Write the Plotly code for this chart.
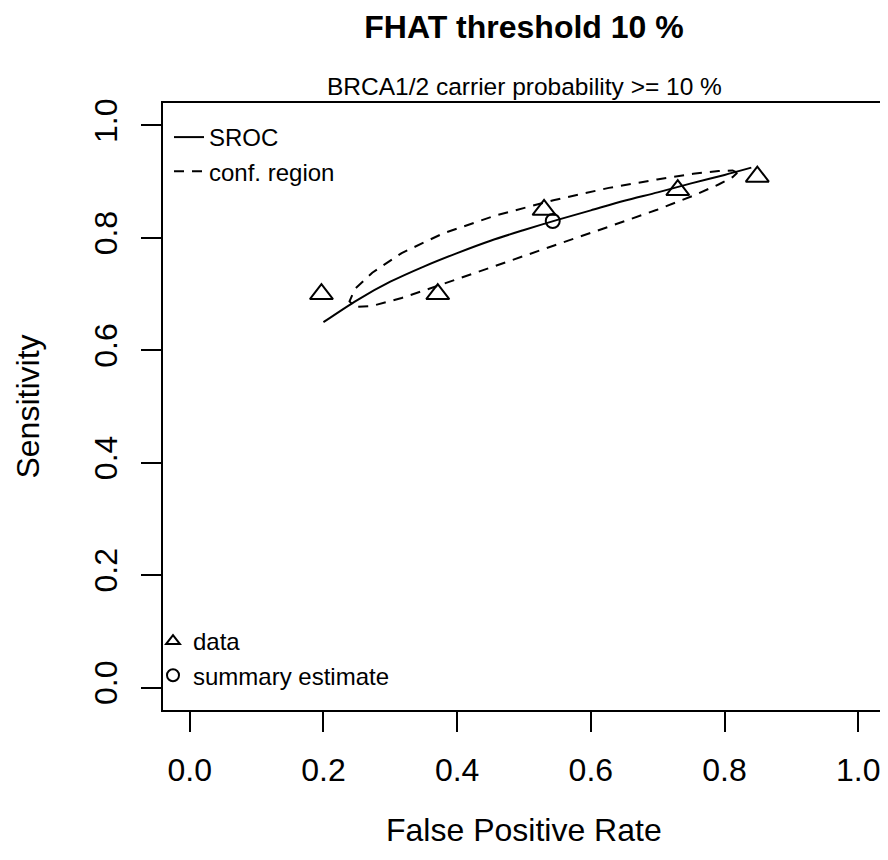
import plotly.graph_objects as go

# ---- data ----
study_fpr = [0.197, 0.371, 0.530, 0.730, 0.849]
study_sens = [0.700, 0.700, 0.850, 0.885, 0.909]

summary_fpr = [0.543]
summary_sens = [0.830]

sroc_fpr = [0.20, 0.25, 0.30, 0.35, 0.40, 0.45, 0.50, 0.55, 0.60, 0.65, 0.70, 0.75, 0.80, 0.84]
sroc_sens = [0.650, 0.689, 0.722, 0.749, 0.773, 0.795, 0.814, 0.832, 0.849, 0.866, 0.881, 0.897, 0.912, 0.925]

region_fpr = [0.819, 0.812, 0.791, 0.753, 0.699, 0.627, 0.544, 0.458, 0.379, 0.317, 0.273, 0.247,
              0.239, 0.247, 0.273, 0.317, 0.379, 0.458, 0.544, 0.627, 0.699, 0.753, 0.791, 0.812, 0.819]
region_sens = [0.916, 0.920, 0.919, 0.914, 0.904, 0.889, 0.867, 0.840, 0.808, 0.773, 0.738, 0.709,
               0.687, 0.677, 0.679, 0.693, 0.718, 0.750, 0.786, 0.820, 0.850, 0.875, 0.895, 0.908, 0.916]

tick_vals = [0.0, 0.2, 0.4, 0.6, 0.8, 1.0]
tick_text = ["0.0", "0.2", "0.4", "0.6", "0.8", "1.0"]

title_text = "FHAT threshold 10 %"
subtitle_text = "BRCA1/2 carrier probability >= 10 %"
x_title = "False Positive Rate"
y_title = "Sensitivity"

FONT = "Liberation Sans, Arial, sans-serif"

# the page body adds an 8px margin; keep the page inside the 888x860 window (no scrollbars)
W, H = 880, 844
ML, MR, MT, MB = 155, 3, 95, 142
PLOT_W, PLOT_H = W - ML - MR, H - MT - MB

fig = go.Figure()

fig.add_trace(go.Scatter(
    x=sroc_fpr, y=sroc_sens, mode="lines", name="SROC",
    line=dict(color="black", width=2, shape="spline", smoothing=0.8), legend="legend"))
fig.add_trace(go.Scatter(
    x=region_fpr, y=region_sens, mode="lines", name="conf. region",
    line=dict(color="black", width=2, dash="10px,8px"), legend="legend"))
fig.add_trace(go.Scatter(
    x=study_fpr, y=study_sens, mode="markers", name="data",
    marker=dict(symbol="triangle-up-open", size=20, color="black", line=dict(width=2, color="black")),
    legend="legend2"))
fig.add_trace(go.Scatter(
    x=summary_fpr, y=summary_sens, mode="markers", name="summary estimate",
    marker=dict(symbol="circle-open", size=14, color="black", line=dict(width=2, color="black")),
    legend="legend2"))

axis_common = dict(
    range=[-0.04, 1.04],
    showgrid=False, zeroline=False, automargin=False, ticklabeloverflow="allow",
    showline=True, linecolor="black", linewidth=2, mirror=True,
    ticks="outside", ticklen=20, tickwidth=2, tickcolor="black",
    tickvals=tick_vals, ticktext=tick_text,
    tickfont=dict(family=FONT, size=32, color="black"),
)

fig.update_layout(
    width=W, height=H,
    margin=dict(l=ML, r=MR, t=MT, b=MB),
    paper_bgcolor="white", plot_bgcolor="white",
    font=dict(family=FONT, color="black"),
    title=dict(text="<b>" + title_text + "</b>", x=0.5, xref="paper", xanchor="center",
               y=1 - 19 / H, yref="container", yanchor="middle",
               font=dict(family=FONT, size=32, color="black")),
    xaxis=dict(**axis_common, ticklabelstandoff=11),
    yaxis=dict(**axis_common, tickangle=-90, ticklabelstandoff=11,
               title=dict(text=y_title, standoff=39, font=dict(family=FONT, size=32, color="black"))),
    legend=dict(x=6 / PLOT_W, y=1 - 12 / PLOT_H, xanchor="left", yanchor="top", xref="paper", yref="paper",
                bgcolor="rgba(0,0,0,0)", borderwidth=0,
                font=dict(family=FONT, size=24, color="black"), tracegroupgap=0),
    legend2=dict(x=-10 / PLOT_W, y=12 / PLOT_H, xanchor="left", yanchor="bottom", xref="paper", yref="paper",
                 bgcolor="rgba(0,0,0,0)", borderwidth=0, itemsizing="constant",
                 font=dict(family=FONT, size=24, color="black"), tracegroupgap=0),
    showlegend=True,
    annotations=[
        dict(text=subtitle_text, x=0.5, xref="paper", xanchor="center",
             y=1, yref="paper", yanchor="bottom", yshift=1, showarrow=False,
             font=dict(family=FONT, size=24.5, color="black")),
        dict(text=x_title, x=0.5, xref="paper", xanchor="center",
             y=0, yref="paper", yanchor="top", yshift=-100, showarrow=False,
             font=dict(family=FONT, size=32, color="black")),
    ],
)

fig.write_html("out.html")
